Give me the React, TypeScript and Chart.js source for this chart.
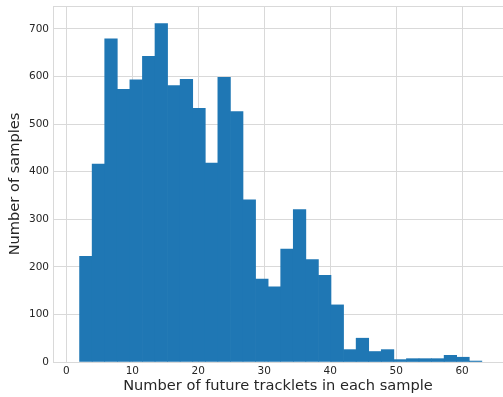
import React, { useEffect, useRef } from "react";
import { Chart, registerables } from "chart.js";

Chart.register(...registerables);

// Histogram: 32 bins starting at 2 with width ~1.906
const binStart = 2;
const binWidth = 1.906;
const counts = [222, 416, 679, 573, 593, 642, 711, 581, 594, 533, 418, 598, 526, 341, 174, 158, 237, 320, 215, 182, 120, 26, 50, 22, 26, 5, 7, 7, 7, 14, 10, 2];
const xTicks = [0, 10, 20, 30, 40, 50, 60];
const yTicks = [0, 100, 200, 300, 400, 500, 600, 700];
const xTitle = "Number of future tracklets in each sample";
const yTitle = "Number of samples";

const FONT = "'DejaVu Sans', sans-serif";
const TEXT = "#262626";
const GRID = "#d9d9d9";

export default function App() {
  const ref = useRef<HTMLCanvasElement | null>(null);
  useEffect(() => {
    document.body.style.margin = "0";
    const points = counts.map((c, i) => ({ x: binStart + (i + 0.5) * binWidth, y: c }));
    const topSpine = {
      id: "topSpine",
      afterDraw(chart: any) {
        const { ctx, chartArea } = chart;
        ctx.save();
        ctx.strokeStyle = GRID;
        ctx.lineWidth = 1;
        ctx.beginPath();
        ctx.moveTo(chartArea.left, chartArea.top + 0.5);
        ctx.lineTo(chartArea.right, chartArea.top + 0.5);
        ctx.stroke();
        ctx.restore();
      },
    };
    const chart = new Chart(ref.current!, {
      type: "bar",
      data: {
        datasets: [
          {
            data: points as any,
            backgroundColor: "#1f77b4",
            borderWidth: 0,
            barPercentage: 1,
            categoryPercentage: 1,
          },
        ],
      },
      options: {
        animation: false,
        responsive: false,
        maintainAspectRatio: false,
        layout: { padding: { top: 6, left: 0, right: 0, bottom: 0 } },
        plugins: { legend: { display: false }, tooltip: { enabled: false } },
        scales: {
          x: {
            type: "linear",
            min: -2.03,
            max: 66.2,
            offset: false,
            grid: { color: GRID, lineWidth: 1, drawTicks: false, offset: false },
            border: { color: GRID },
            afterBuildTicks(scale: any) {
              scale.ticks = xTicks.map((v) => ({ value: v }));
            },
            afterFit(scale: any) {
              scale.height = 35;
              scale.paddingLeft = 0;
              scale.paddingRight = 0;
            },
            ticks: {
              padding: 3,
              color: TEXT,
              font: { family: FONT, size: 10.5 },
              maxRotation: 0,
            },
            title: {
              display: true,
              text: xTitle,
              color: TEXT,
              font: { family: FONT, size: 14.6 },
              padding: { top: 0, bottom: 2 },
            },
          },
          y: {
            type: "linear",
            min: 0,
            max: 748,
            grid: { color: GRID, lineWidth: 1, drawTicks: false },
            border: { color: GRID },
            afterBuildTicks(scale: any) {
              scale.ticks = yTicks.map((v) => ({ value: v }));
            },
            afterFit(scale: any) {
              scale.width = 53;
              scale.paddingTop = 0;
              scale.paddingBottom = 0;
            },
            ticks: {
              padding: 4,
              color: TEXT,
              font: { family: FONT, size: 10.5 },
            },
            title: {
              display: true,
              text: yTitle,
              color: TEXT,
              font: { family: FONT, size: 14.6 },
              padding: { top: 6, bottom: 0 },
            },
          },
        },
      },
      plugins: [topSpine],
    });
    return () => chart.destroy();
  }, []);
  return (
    <div style={{ width: 503, height: 397 }}>
      <canvas ref={ref} width={503} height={397} style={{ display: "block" }} />
    </div>
  );
}
